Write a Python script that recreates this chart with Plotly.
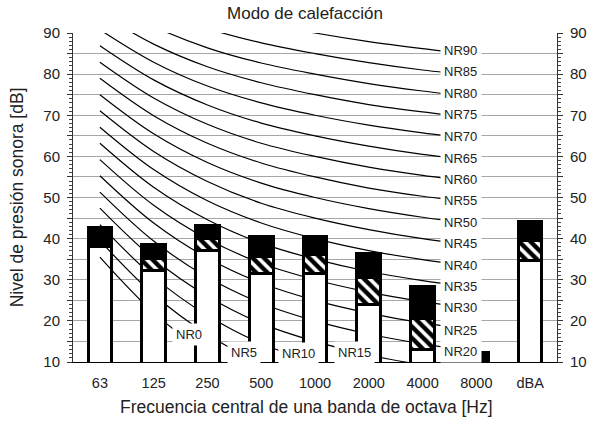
import plotly.graph_objects as go

# Octave bands shown on the x axis
bands = ["63", "125", "250", "500", "1000", "2000", "4000", "8000", "dBA"]

# Stacked bar levels in dB (top of each segment)
white_top = [38.0, 32.2, 37.0, 31.5, 31.5, 24.0, 13.0, 5.0, 34.8]
hatch_top = [38.0, 35.2, 40.0, 35.6, 36.2, 30.6, 20.6, 9.0, 39.5]
black_top = [42.7, 38.6, 43.1, 40.4, 40.6, 36.3, 28.3, 12.2, 44.2]

# NR rating curves, dB at 63, 125, 250, 500, 1000, 2000, 4000, 8000 Hz
nr0 = [35.5, 22.0, 12.0, 4.8, 0.0, -3.5, -6.1, -8.0]
nr5 = [39.5, 26.4, 16.7, 9.7, 5.0, 1.6, -1.0, -2.9]
nr10 = [43.4, 30.7, 21.3, 14.5, 10.0, 6.7, 4.2, 2.3]
nr15 = [47.4, 35.1, 26.0, 19.4, 15.0, 11.7, 9.3, 7.5]
nr20 = [51.3, 39.4, 30.6, 24.3, 20.0, 16.8, 14.4, 12.6]
nr25 = [55.3, 43.8, 35.3, 29.2, 25.0, 21.9, 19.5, 17.8]
nr30 = [59.2, 48.1, 39.9, 34.0, 30.0, 27.0, 24.7, 22.9]
nr35 = [63.2, 52.5, 44.6, 38.9, 35.0, 32.0, 29.8, 28.1]
nr40 = [67.1, 56.8, 49.2, 43.8, 40.0, 37.1, 34.9, 33.2]
nr45 = [71.1, 61.2, 53.9, 48.6, 45.0, 42.2, 40.0, 38.4]
nr50 = [75.0, 65.5, 58.5, 53.5, 50.0, 47.3, 45.2, 43.5]
nr55 = [79.0, 69.9, 63.2, 58.4, 55.0, 52.3, 50.3, 48.7]
nr60 = [82.9, 74.2, 67.8, 63.2, 60.0, 57.4, 55.4, 53.8]
nr65 = [86.9, 78.6, 72.5, 68.1, 65.0, 62.5, 60.5, 59.0]
nr70 = [90.8, 82.9, 77.1, 73.0, 70.0, 67.6, 65.7, 64.1]
nr75 = [94.8, 87.3, 81.8, 77.9, 75.0, 72.6, 70.8, 69.3]
nr80 = [98.7, 91.6, 86.4, 82.7, 80.0, 77.7, 75.9, 74.4]
nr85 = [102.7, 96.0, 91.1, 87.6, 85.0, 82.8, 81.0, 79.6]
nr90 = [106.6, 100.3, 95.7, 92.5, 90.0, 87.9, 86.2, 84.7]

nr_numbers = [0, 5, 10, 15, 20, 25, 30, 35, 40, 45, 50, 55, 60, 65, 70, 75, 80, 85, 90]
nr_curves = [nr0, nr5, nr10, nr15, nr20, nr25, nr30, nr35, nr40, nr45,
             nr50, nr55, nr60, nr65, nr70, nr75, nr80, nr85, nr90]

# Where the low NR labels sit along their curves (band index, dB)
low_label_spots = {0: (1.66, 16.6), 5: (2.68, 12.2), 10: (3.69, 12.1), 15: (4.74, 12.3)}
right_label_x = 6.32

FONT = "Liberation Sans, Arial, sans-serif"
TXT = "#222222"
X_RANGE = [-0.5, 8.5]
Y_RANGE = [10, 90]

fig = go.Figure()

bar_x = list(range(len(bands)))
hatch_h = [h - w for h, w in zip(hatch_top, white_top)]
black_h = [b - h for b, h in zip(black_top, hatch_top)]
bar_line = dict(color="black", width=3)
hatch_marker = dict(color="white", line=bar_line,
                    pattern=dict(shape="\\", fgcolor="black", bgcolor="white",
                                 fgopacity=1, size=8, solidity=0.55))
segments = [
    (white_top, dict(color="white", line=bar_line)),
    (hatch_h, hatch_marker),
    (black_h, dict(color="black", line=bar_line)),
]


def add_bars(idx, xa, ya):
    for vals, marker in segments:
        fig.add_trace(go.Bar(x=[bar_x[i] for i in idx], y=[vals[i] for i in idx],
                             width=0.44, xaxis=xa, yaxis=ya, marker=marker,
                             hoverinfo="skip", showlegend=False))


# The first band's bar shares the base subplot, so the curves start on top of it
add_bars([0], "x", "y")

# Curves on the base subplot
curve_x = list(range(8))
for nr, vals in zip(nr_numbers, nr_curves):
    fig.add_trace(go.Scatter(
        x=curve_x, y=vals, mode="lines",
        line=dict(color="black", width=1.2, shape="spline", smoothing=1.0),
        hoverinfo="skip", showlegend=False, xaxis="x", yaxis="y",
    ))

# Remaining bars on the overlaid subplot so they cover the curves
add_bars(bar_x[1:], "x2", "y2")

# NR labels with white boxes
annotations = []
for nr, vals in zip(nr_numbers, nr_curves):
    if nr in low_label_spots:
        lx, ly = low_label_spots[nr]
        annotations.append(dict(x=lx, y=ly, xref="x", yref="y", text=f"NR{nr}",
                                showarrow=False, xanchor="center", yanchor="middle",
                                bgcolor="white", borderpad=3,
                                font=dict(family=FONT, size=13, color=TXT)))
    else:
        f = right_label_x - 6
        ly = vals[6] + (vals[7] - vals[6]) * f
        annotations.append(dict(x=right_label_x, y=ly, xref="x", yref="y", text=f"NR{nr}",
                                showarrow=False, xanchor="left", yanchor="middle",
                                yshift=-round((90 - nr) * 0.07),
                                bgcolor="white", borderpad=3, width=34, align="left",
                                font=dict(family=FONT, size=13, color=TXT)))

# Axis titles
annotations.append(dict(text="Frecuencia central de una banda de octava [Hz]",
                        xref="paper", yref="paper", x=0.4815, y=-0.137,
                        showarrow=False, xanchor="center", yanchor="middle",
                        font=dict(family=FONT, size=17.5, color=TXT)))
annotations.append(dict(text="Nivel de presión sonora [dB]", textangle=-90,
                        xref="paper", yref="paper", x=-0.115, y=0.5015,
                        showarrow=False, xanchor="center", yanchor="middle",
                        font=dict(family=FONT, size=17.5, color=TXT)))

grid_vals = list(range(10, 91, 5))
grid_text = [str(v) if v % 10 == 0 else "" for v in grid_vals]
minor_ticks = dict(ticks="outside", ticklen=3, tickcolor="#444", tickmode="linear",
                   tick0=10, dtick=1, showgrid=False)

fig.update_layout(
    width=599, height=421,
    margin=dict(l=73, r=39, t=33, b=59),
    paper_bgcolor="white", plot_bgcolor="white",
    barmode="stack",
    font=dict(family=FONT, size=14, color=TXT),
    title=dict(text="Modo de calefacción", x=305 / 599, xref="container",
               y=1 - 13 / 421, yref="container", xanchor="center", yanchor="middle",
               font=dict(family=FONT, size=17, color=TXT)),
    xaxis=dict(range=X_RANGE, tickmode="array", tickvals=bar_x, ticktext=bands,
               showgrid=False, zeroline=False, showline=True, linecolor="black",
               linewidth=1, ticks="", ticklabelstandoff=8,
               tickfont=dict(family=FONT, size=14.5, color=TXT)),
    yaxis=dict(range=Y_RANGE, tickmode="array", tickvals=grid_vals, ticktext=grid_text,
               showgrid=True, gridcolor="#a6a6a6", gridwidth=1, zeroline=False,
               showline=True, linecolor="#333", linewidth=1,
               ticks="outside", ticklen=5, tickcolor="#333", minor=minor_ticks,
               ticklabelstandoff=4,
               tickfont=dict(family=FONT, size=15, color=TXT)),
    xaxis2=dict(range=X_RANGE, overlaying="x", visible=False, anchor="y2"),
    yaxis2=dict(range=Y_RANGE, overlaying="y", side="right", anchor="x2",
                tickmode="array", tickvals=grid_vals, ticktext=grid_text,
                showgrid=False, zeroline=False, showline=True, linecolor="#333",
                linewidth=1, ticks="outside", ticklen=5, tickcolor="#333",
                minor=minor_ticks, ticklabelstandoff=4,
                tickfont=dict(family=FONT, size=15, color=TXT)),
    annotations=annotations,
)

fig.write_html("out.html")
